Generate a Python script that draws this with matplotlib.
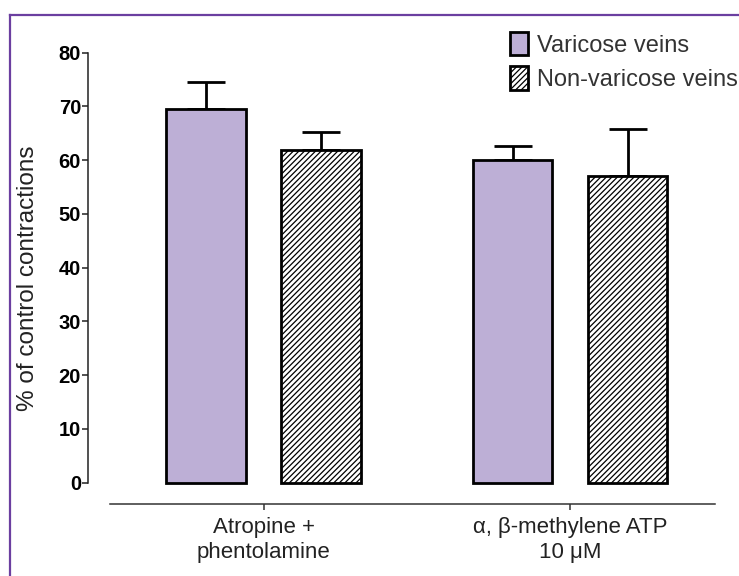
import numpy as np
import matplotlib
matplotlib.use('Agg')
import matplotlib.pyplot as plt
from matplotlib.patches import Patch
from matplotlib.lines import Line2D

plt.rcParams['font.family'] = ['Liberation Sans', 'DejaVu Sans']
plt.rcParams['hatch.linewidth'] = 0.9

# ── data
groups     = ['Atropine +\nphentolamine', 'α, β-methylene ATP\n10 μM']
series     = ['Varicose veins', 'Non-varicose veins']
varicose   = [69.5, 60.0]
varicose_e = [5.1, 2.7]
nonvar     = [61.9, 57.1]
nonvar_e   = [3.3, 8.7]
y_ticks    = [0, 10, 20, 30, 40, 50, 60, 70, 80]

# ── style
VIOLET = '#BDAFD6'
FRAME  = '#6B3FA0'
HATCH  = '//////'
W, H, DPI = 7.39, 5.76, 100

fig = plt.figure(figsize=(W, H), dpi=DPI, facecolor='white')
# axes placed in pixel terms (left spine at 88 px, x-axis line at 504 px)
ax = fig.add_axes([88 / 739, (576 - 504) / 576,
                   (715 - 88) / 739, (504 - 52.7) / 576])

x = np.arange(len(groups))
bw, off = 0.258, 0.1876
ax.bar(x - off, varicose, width=bw, color=VIOLET, edgecolor='black',
       linewidth=2, zorder=2, label=series[0])
ax.bar(x + off, nonvar, width=bw, color='white', edgecolor='black',
       linewidth=2, hatch=HATCH, zorder=2, label=series[1])

# one-sided (upper) error bars
ax.errorbar(x - off, varicose, yerr=[np.zeros(2), varicose_e], fmt='none',
            ecolor='black', elinewidth=2, capsize=14, capthick=2, zorder=1)
ax.errorbar(x + off, nonvar, yerr=[np.zeros(2), nonvar_e], fmt='none',
            ecolor='black', elinewidth=2, capsize=14, capthick=2, zorder=1)

ax.set_ylim(-3.96, 80)
ax.set_xlim(-0.5726, 1.473)

for s in ['top', 'right']:
    ax.spines[s].set_visible(False)
ax.spines['left'].set_bounds(0, 80)
ax.spines['left'].set_linewidth(1.1)
ax.spines['left'].set_color('#222222')
ax.spines['bottom'].set_bounds(-0.5, 1.473)
ax.spines['bottom'].set_linewidth(1.1)
ax.spines['bottom'].set_color('#333333')

ax.set_yticks(y_ticks)
ax.set_yticklabels([str(t) for t in y_ticks], fontsize=14.5,
                   fontweight='bold')
ax.tick_params(axis='y', length=4, width=1.1, pad=1, color='#222222')

ax.set_xticks(x)
ax.set_xticklabels(groups, fontsize=16, color='#222222', linespacing=1.3)
ax.tick_params(axis='x', length=4, width=1.1, pad=5, color='#333333')

ax.set_ylabel('% of control contractions', fontsize=17.5, color='#222222')
ax.yaxis.set_label_coords(-0.078, 0.5)

handles = [Patch(facecolor=VIOLET, edgecolor='black', linewidth=2),
           Patch(facecolor='white', edgecolor='black', linewidth=2,
                 hatch=HATCH)]
leg = fig.legend(handles, series, loc='upper left',
                 bbox_to_anchor=(510 / 739, 1 - 32 / 576),
                 frameon=False, fontsize=17, handlelength=0.78,
                 handleheight=1.15, handletextpad=0.35, labelspacing=0.4,
                 borderpad=0, borderaxespad=0)
for t in leg.get_texts():
    t.set_color('#333333')

# purple frame (top and left edges only, as in the cropped original)
fig.add_artist(Line2D([10 / 739, 1.0], [1 - 15 / 576, 1 - 15 / 576],
                      transform=fig.transFigure, color=FRAME, lw=1.6))
fig.add_artist(Line2D([10 / 739, 10 / 739], [0.0, 1 - 15 / 576],
                      transform=fig.transFigure, color=FRAME, lw=1.6))

fig.savefig('out.png', dpi=DPI, facecolor='white')
